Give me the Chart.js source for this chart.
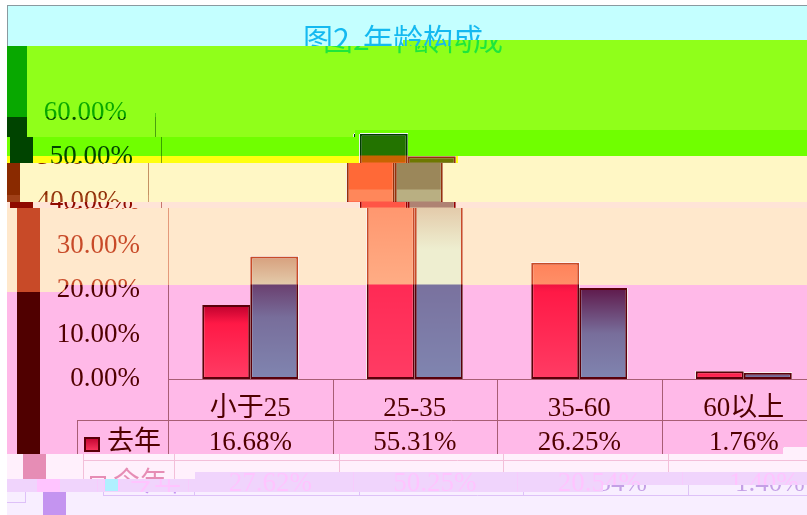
<!DOCTYPE html>
<html>
<head>
<meta charset="utf-8">
<title>图2 年龄构成</title>
<script src="https://cdn.jsdelivr.net/npm/chart.js@4"></script>
<style>
  html, body { margin: 0; padding: 0; background: #fff; }
  #wrap { width: 807px; height: 515px; overflow: hidden; }
</style>
</head>
<body>
<div id="wrap"><canvas id="chart" width="860" height="515"></canvas></div>
<script>
const titleText = '图2  年龄构成';
const categories = ['小于25', '25-35', '35-60', '60以上'];
const seriesNames = ['去年', '今年'];
const lastYear = [16.68, 55.31, 26.25, 1.76];
const thisYear = [27.62, 50.25, 20.54, 1.40];
const tickLabels = ['0.00%', '10.00%', '20.00%', '30.00%', '40.00%', '50.00%', '60.00%'];

const FONT = '"Liberation Serif", "Noto Sans CJK SC", serif';
const WHITE_BG = [255, 255, 255];

// picture pieces: each one takes the drawn chart, moves it by dx,dy and recolours grey ink (black -> fg, white -> bg)
const GREEN = [144, 255, 26], LIME = [112, 255, 0], CREAM = [255, 247, 197], PEACH = [255, 232, 204];
const PINK = [255, 185, 232], LILAC = [240, 212, 252], PALE = [248, 238, 255];
const pieces = [
  { x0: 7, x1: 807, y0: 5, y1: 46, dx: -20, bg: [196, 255, 255], fg: [20, 185, 240] },
  { x0: 403, x1: 455, y0: 40, y1: 46, dx: -20, bg: GREEN, fg: [20, 185, 240] },
  { x0: 455, x1: 807, y0: 40, y1: 46, dx: 0, bg: GREEN, fg: [30, 230, 60] },
  { x0: 7, x1: 807, y0: 46, y1: 117, dx: -13, bg: GREEN, fg: [8, 168, 0] },
  { x0: 280, x1: 560, y0: 46, y1: 60, dx: 0, bg: GREEN, fg: [30, 230, 60] },
  { x0: 7, x1: 807, y0: 117, y1: 137, dx: -13, bg: GREEN, fg: [0, 68, 0] },
  { x0: 355, x1: 807, y0: 130, y1: 137, dx: -7, bg: LIME, fg: [0, 68, 0] },
  { x0: 7, x1: 807, y0: 137, y1: 156, dx: -7, bg: LIME, fg: [0, 68, 0] },
  { x0: 7, x1: 458, y0: 156, y1: 163, dx: -7, bg: [255, 255, 15], fg: [0, 68, 0] },
  { x0: 458, x1: 807, y0: 156, y1: 163, dx: -20, bg: CREAM, fg: [140, 45, 5] },
  { x0: 7, x1: 807, y0: 163, y1: 195, dx: -20, bg: CREAM, fg: [138, 42, 0] },
  { x0: 7, x1: 807, y0: 195, y1: 202, dx: -20, bg: CREAM, fg: [160, 64, 24] },
  { x0: 7, x1: 807, y0: 202, y1: 208, dx: -7, bg: [255, 228, 215], fg: [143, 10, 0] },
  { x0: 7, x1: 807, y0: 208, y1: 285, dx: 0, bg: PEACH, fg: [200, 74, 40] },
  { x0: 7, x1: 65, y0: 285, y1: 292, dx: 0, bg: PEACH, fg: [200, 74, 40] },
  { x0: 65, x1: 807, y0: 285, y1: 292, dx: 0, bg: PINK, fg: [80, 0, 0] },
  { x0: 7, x1: 807, y0: 292, y1: 454, dx: 0, bg: PINK, fg: [80, 0, 0] },
  { x0: 783, x1: 807, y0: 447, y1: 454, dx: 6, bg: [255, 240, 252], fg: [230, 141, 181] },
  { x0: 7, x1: 807, y0: 454, y1: 479, dx: 6, bg: [255, 240, 252], fg: [230, 141, 181] },
  { x0: 7, x1: 195, y0: 479, y1: 492, dx: 20, bg: LILAC, fg: [255, 196, 255] },
  { x0: 195, x1: 807, y0: 472, y1: 485, dx: 20, bg: LILAC, fg: [255, 196, 255] },
  { x0: 195, x1: 603, y0: 485, y1: 492, dx: 20, bg: LILAC, fg: [255, 196, 255] },
  { x0: 603, x1: 807, y0: 485, y1: 492, dx: 26, bg: PALE, fg: [196, 160, 230] },
  { x0: 7, x1: 807, y0: 492, y1: 515, dx: 26, bg: PALE, fg: [196, 148, 240] },
  { x0: 7, x1: 26, y0: 492, y1: 515, dx: -801, dy: 7, bg: PALE, fg: [196, 148, 240] }
];

function mix(a, b, k) {
  k = Math.max(0, Math.min(1, k));
  return a.map((v, i) => Math.round(v + (b[i] - v) * k));
}

function lastYearFill(y, t) {
  if (y < 156) return [35, 115, 0];
  if (y < 163) return [200, 100, 1];
  if (y < 190) return [255, 105, 55];
  if (y < 202) return [255, 135, 90];
  if (y < 208) return [255, 85, 70];
  if (y < 285) return mix([255, 130, 90], [255, 175, 135], t / 0.65);
  if (t < 0.25) return mix([190, 0, 45], [255, 25, 70], t / 0.25);
  return mix([255, 25, 70], [255, 60, 100], (t - 0.25) / 0.75);
}

function thisYearFill(y, t) {
  if (y < 163) return [110, 120, 0];
  if (y < 190) return [155, 135, 90];
  if (y < 202) return [185, 175, 130];
  if (y < 208) return [175, 130, 115];
  if (y < 285) return mix([215, 160, 125], [238, 238, 208], t / 0.42);
  if (t < 0.5) return mix([95, 25, 75], [120, 110, 155], t / 0.5);
  return mix([120, 110, 155], [128, 133, 176], (t - 0.5) / 0.5);
}

function edgeColor(y) {
  if (y < 156) return [0, 60, 1];
  if (y < 202) return [150, 50, 10];
  if (y < 208) return [150, 0, 1];
  if (y < 285) return [200, 75, 40];
  return [90, 0, 10];
}

function barGradient(context, colorAt) {
  const chart = context.chart;
  if (!chart.chartArea || context.raw === undefined) return '#800000';
  const top = chart.scales.y.getPixelForValue(context.raw);
  const bottom = chart.scales.y.getPixelForValue(0);
  const grad = chart.ctx.createLinearGradient(0, top, 0, bottom);
  for (let y = Math.floor(top); y <= bottom; y++) {
    const stop = Math.max(0, (y - top) / (bottom - top));
    grad.addColorStop(Math.min(1, stop), 'rgb(' + colorAt(y, stop).join(',') + ')');
  }
  return grad;
}

const tablePlugin = {
  id: 'dataTable',
  beforeDraw(chart) {
    const ctx = chart.ctx;
    ctx.save();
    ctx.fillStyle = 'rgb(' + WHITE_BG.join(',') + ')';
    ctx.fillRect(0, 0, chart.width, chart.height);
    ctx.restore();
  },
  beforeDatasetsDraw(chart) {
    const ctx = chart.ctx;
    const area = chart.chartArea;
    const edges = [area.left];
    categories.forEach((c, i) => edges.push(chart.scales.x.getPixelForValue(i) + (area.right - area.left) / 8));
    ctx.save();
    // dark strip down the left of the frame
    ctx.fillStyle = '#000';
    ctx.fillRect(17, 46, 23, 469);
    // table grid
    ctx.strokeStyle = '#808080';
    ctx.lineWidth = 1;
    ctx.beginPath();
    [420.5, 460.5, 495.5].forEach(y => { ctx.moveTo(77, y); ctx.lineTo(area.right, y); });
    ctx.moveTo(77.5, 420); ctx.lineTo(77.5, 496);
    edges.forEach(x => { const px = Math.round(x) + 0.5; ctx.moveTo(px, area.bottom); ctx.lineTo(px, 496); });
    ctx.stroke();
    // rows
    ctx.font = '27px ' + FONT;
    ctx.fillStyle = '#000';
    ctx.textAlign = 'center';
    ctx.textBaseline = 'middle';
    [lastYear, thisYear].forEach((row, r) => {
      const y = r === 0 ? 443 : 484;
      row.forEach((v, i) => ctx.fillText(v.toFixed(2) + '%', chart.scales.x.getPixelForValue(i), y));
    });
    ctx.textAlign = 'left';
    ctx.fillText(seriesNames[0], 107, 443);
    ctx.fillText(seriesNames[1], 107, 484);
    // legend keys
    const g = ctx.createLinearGradient(0, 437, 0, 452);
    g.addColorStop(0, 'rgb(190,0,45)');
    g.addColorStop(1, 'rgb(255,60,100)');
    ctx.fillStyle = g;
    ctx.fillRect(84, 437, 16, 15);
    ctx.strokeStyle = '#5a000a';
    ctx.lineWidth = 2;
    ctx.strokeRect(85, 438, 14, 13);
    ctx.strokeStyle = '#000';
    ctx.strokeRect(85, 477, 14, 13);
    ctx.fillStyle = '#aff0ff';
    ctx.fillRect(85, 479, 13, 12);
    ctx.restore();
  },
  afterDraw(chart) {
    const ctx = chart.ctx;
    const w = chart.width, h = chart.height;
    const src = ctx.getImageData(0, 0, w, h);
    const out = ctx.createImageData(w, h);
    out.data.fill(255);
    pieces.forEach(p => {
      const dy = p.dy || 0;
      for (let y = p.y0; y < p.y1; y++) {
        for (let x = p.x0; x < p.x1; x++) {
          const sx = x - p.dx, sy = y - dy;
          const o = (y * w + x) * 4;
          let r = 255, g = 255, b = 255;
          if (sx >= 0 && sx < w && sy >= 0 && sy < h) {
            const s = (sy * w + sx) * 4;
            r = src.data[s]; g = src.data[s + 1]; b = src.data[s + 2];
          }
          if (r === g && g === b) {
            const k = r / 255;
            out.data[o] = p.fg[0] + (p.bg[0] - p.fg[0]) * k;
            out.data[o + 1] = p.fg[1] + (p.bg[1] - p.fg[1]) * k;
            out.data[o + 2] = p.fg[2] + (p.bg[2] - p.fg[2]) * k;
          } else {
            out.data[o] = r; out.data[o + 1] = g; out.data[o + 2] = b;
          }
        }
      }
    });
    ctx.putImageData(out, 0, 0);
    // frame
    ctx.save();
    ctx.strokeStyle = '#8a9aa0';
    ctx.lineWidth = 1;
    ctx.beginPath();
    ctx.moveTo(7, 5.5); ctx.lineTo(807, 5.5);
    ctx.moveTo(7.5, 5); ctx.lineTo(7.5, 46);
    ctx.stroke();
    ctx.restore();
  }
};

new Chart(document.getElementById('chart').getContext('2d'), {
  type: 'bar',
  data: {
    labels: categories,
    datasets: [
      {
        label: seriesNames[0],
        data: lastYear,
        backgroundColor: c => barGradient(c, lastYearFill),
        borderColor: c => barGradient(c, y => edgeColor(y))
      },
      {
        label: seriesNames[1],
        data: thisYear,
        backgroundColor: c => barGradient(c, thisYearFill),
        borderColor: c => barGradient(c, y => edgeColor(y))
      }
    ]
  },
  options: {
    responsive: false,
    animation: false,
    events: [],
    layout: { padding: { right: 34 } },
    elements: { bar: { borderWidth: 2, borderSkipped: false } },
    datasets: { bar: { categoryPercentage: 0.584, barPercentage: 1 } },
    plugins: {
      legend: { display: false },
      tooltip: { enabled: false },
      title: {
        display: true,
        text: titleText,
        color: '#000',
        font: { family: '"Noto Sans CJK SC", sans-serif', size: 30, weight: 'normal', lineHeight: 1.2 },
        padding: { top: 21, bottom: 56 }
      }
    },
    scales: {
      x: {
        grid: { display: false },
        border: { color: '#808080' },
        afterFit: s => { s.height = 136; },
        ticks: { color: '#000', padding: 6, maxRotation: 0, autoSkip: false, font: { family: FONT, size: 27 } }
      },
      y: {
        min: 0,
        max: 60,
        grid: { display: false },
        border: { color: '#808080' },
        afterFit: s => { s.width = 168; },
        ticks: {
          stepSize: 10,
          color: '#000',
          padding: 20,
          font: { family: FONT, size: 27 },
          callback: (v, i) => tickLabels[i]
        }
      }
    }
  },
  plugins: [tablePlugin]
});
</script>
</body>
</html>
